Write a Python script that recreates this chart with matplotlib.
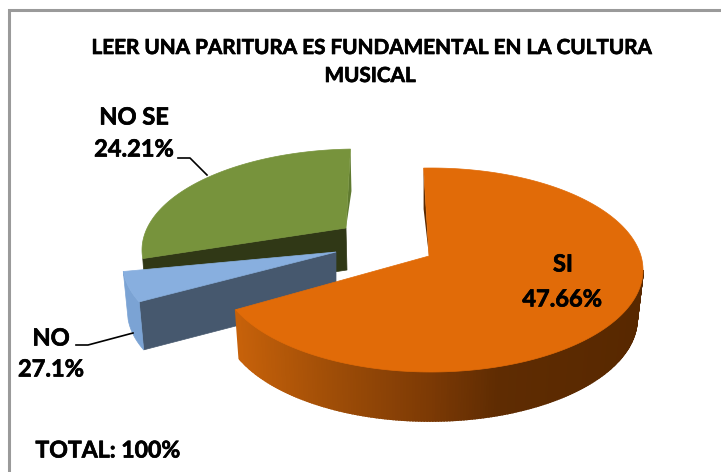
import numpy as np
import matplotlib.pyplot as plt
import matplotlib.patheffects as pe
from matplotlib.patches import Polygon

# Data
categories = ["SI", "NO", "NO SE"]
label_values = [47.66, 27.1, 24.21]
# the slices are not drawn to the printed labels, these are read off the picture (%)
drawn_shares = [69.2, 5.0, 25.8]
total_label = "TOTAL: 100%"
title = "LEER UNA PARITURA ES FUNDAMENTAL EN LA CULTURA\nMUSICAL"

START_ANGLE = 92.0
FONT = "Lato"


def arc(t1, t2, cx, cy, rx, ry, n=120):
    t = np.radians(np.linspace(t1, t2, n))
    return np.column_stack([cx + rx * np.cos(t), cy - ry * np.sin(t)])


def rim_color(x):
    xs = [240, 330, 430, 500, 640]
    r = np.interp(x, xs, [198, 160, 125, 95, 88])
    g = np.interp(x, xs, [97, 78, 58, 44, 40])
    b = np.interp(x, xs, [10, 7, 5, 2, 0])
    return (r / 255, g / 255, b / 255)


fig = plt.figure(figsize=(7.21, 4.72), dpi=100)
ax = fig.add_axes([0, 0, 1, 1])
ax.set_xlim(0, 721)
ax.set_ylim(472, 0)
ax.axis("off")

# Chart frame (only top and left show up in the crop)
ax.plot([9, 9, 721], [472, 10, 10], color="#9a9a9a", lw=2.2, solid_joinstyle="miter")

# Slice angles from the shares, clockwise from START_ANGLE
sweeps = np.array(drawn_shares) / sum(drawn_shares) * 360
ends = START_ANGLE - np.cumsum(sweeps)
starts = ends + sweeps
t_si = (starts[0], ends[0])
t_no = (starts[1], ends[1])
t_nose = (starts[2], ends[2])

# --- NO SE slice (back) ---
apex = np.array([346, 228])
cx, cy, rx, ry, depth = 358, 250, 216, 101, 42
top = arc(t_nose[1], t_nose[0], cx, cy, rx, ry)
ax.add_patch(Polygon([apex, top[-1], top[-1] + [3, depth], apex + [1, depth]],
                     fc="#303816", ec="#303816", lw=0.5, zorder=2))
ax.add_patch(Polygon([top[0], top[0] + [1, depth], apex], fc="#5f7a30", ec="none", zorder=2))
ax.add_patch(Polygon(np.vstack([apex, top]), fc="#77933c", ec="#77933c", lw=0.5, zorder=3))

# --- NO slice ---
apex = np.array([336, 252])
cx, cy, rx, ry, depth = 334.5, 263, 212, 100, 48
top = arc(t_no[1], t_no[0], cx, cy, rx, ry, 30)
low = arc(t_no[1], t_no[0], cx, cy + depth, rx * 0.977, ry, 30)
ax.add_patch(Polygon([apex, top[-1], low[-1], apex + [0, depth]],
                     fc="#46586e", ec="#46586e", lw=0.5, zorder=4))
ax.add_patch(Polygon(np.vstack([top, low[::-1]]), fc="#7ba3d4", ec="#7ba3d4", lw=0.5, zorder=4))
ax.add_patch(Polygon(np.vstack([apex, top]), fc="#88afdf", ec="#88afdf", lw=0.5, zorder=5))

# --- SI slice (front) ---
apex = np.array([429, 256])
cx, cy, rx, ry, depth = 431, 270, 212, 102, 49
top = arc(t_si[0], t_si[1], cx, cy, rx, ry, 300)
ax.add_patch(Polygon([top[0], top[0] + [0, 41], apex], fc="#5a2a02", ec="none", zorder=5))
rim_t = np.linspace(t_si[1], 0, 200)
for t1, t2 in zip(rim_t[:-1], rim_t[1:]):
    a = arc(t1, t2, cx, cy, rx, ry, 2)
    b = arc(t1, t2, cx - 1, cy + depth, rx - 5, ry, 2)
    col = rim_color(a[:, 0].mean())
    ax.add_patch(Polygon(np.vstack([a, b[::-1]]), fc=col, ec=col, lw=1.2, zorder=6))
ax.add_patch(Polygon(np.vstack([apex, top]), fc="#e16b08", ec="#e16b08", lw=0.5, zorder=7))

# Leader lines
ax.plot([178, 190, 207], [158, 158, 175], color="black", lw=1.2, zorder=8)
ax.plot([76, 88, 133], [345, 345, 333], color="black", lw=1.2, zorder=8)

# Text
txt = dict(family=FONT, weight="bold", color="black", ha="center", va="center", zorder=9,
           path_effects=[pe.withStroke(linewidth=0.5, foreground="black")])
ax.text(370, 48, title.split("\n")[0], fontsize=14.9, **txt)
ax.text(370, 76, title.split("\n")[1], fontsize=14.9, **txt)
ax.text(563, 264, categories[0], fontsize=17, **txt)
ax.text(562, 299, f"{label_values[0]}%", fontsize=17, **txt)
ax.text(51, 338, categories[1], fontsize=17, **txt)
ax.text(51, 369, f"{label_values[1]}%", fontsize=17, **txt)
ax.text(134, 117, categories[2], fontsize=17, **txt)
ax.text(134, 149, f"{label_values[2]}%", fontsize=17, **txt)
ax.text(108, 451, total_label, fontsize=16.6, **txt)

plt.savefig("out.png", dpi=100)
